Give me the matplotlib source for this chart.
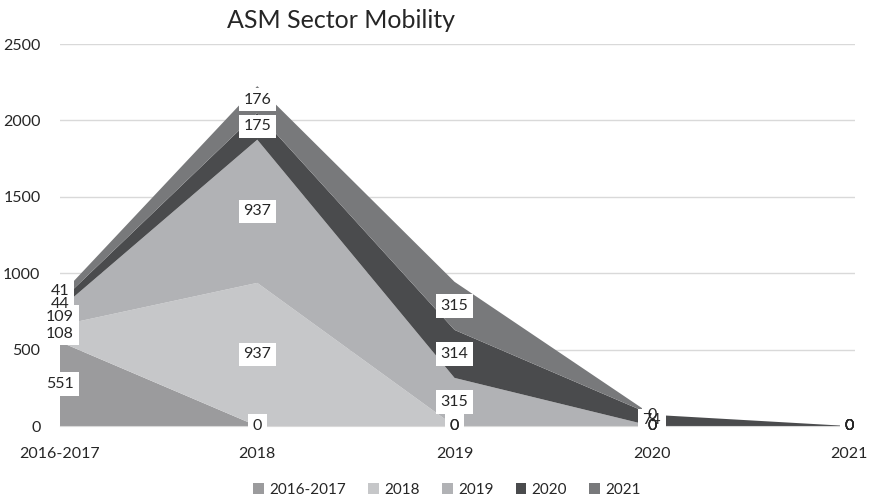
import matplotlib.pyplot as plt
import numpy as np

plt.rcParams['font.family'] = ['Lato', 'DejaVu Sans']

# categories on the x axis and one series per year of origin
categories = ['2016-2017', '2018', '2019', '2020', '2021']
series_names = ['2016-2017', '2018', '2019', '2020', '2021']
s_2016_2017 = [551, 0, 0, 0, 0]
s_2018 = [108, 937, 0, 0, 0]
s_2019 = [109, 937, 315, 0, 0]
s_2020 = [44, 175, 314, 74, 0]
s_2021 = [41, 176, 315, 0, 0]
yticks = [0, 500, 1000, 1500, 2000, 2500]

colors = ['#9b9b9d', '#c6c7c9', '#b1b2b5', '#4a4b4d', '#78797b']
txt = '#262626'

data = np.array([s_2016_2017, s_2018, s_2019, s_2020, s_2021])
x = np.arange(len(categories))

fig = plt.figure(figsize=(8.76, 5.03), dpi=100)
ax = fig.add_axes([0.0685, 0.153, 0.9075, 0.7594])

ax.stackplot(x, data, colors=colors, labels=series_names, zorder=2)
ax.set_xlim(0, 4.03)
ax.set_ylim(0, 2500)

# label positions: middle of each band, nonzero labels nudged apart a little
mids = np.cumsum(data, axis=0) - data / 2
min_gap = 13 / (ax.get_position().height * fig.get_figheight() * fig.dpi) * 2500
for i in range(len(categories)):
    last = None
    for k in range(len(data)):
        if data[k, i] == 0:
            continue
        if last is not None and mids[k, i] - last < min_gap:
            mids[k, i] = last + min_gap
        last = mids[k, i]

# white boxes first, then all texts on top
for k, vals in enumerate(data):
    for i, v in enumerate(vals):
        ax.text(x[i], mids[k, i], str(v), ha='center', va='center', fontsize=11.5,
                color='none', zorder=4,
                bbox=dict(facecolor='white', edgecolor='none', pad=3.5))
        ax.text(x[i], mids[k, i], str(v), ha='center', va='center', fontsize=11.5,
                color=txt, zorder=5)

ax.set_yticks(yticks)
ax.set_xticks(x)
ax.set_xticklabels(categories)
ax.tick_params(axis='both', length=0, labelsize=11.5, colors=txt)
ax.tick_params(axis='y', pad=14)
ax.tick_params(axis='x', pad=15)
ax.grid(axis='y', color='#d9d9d9', linewidth=1, zorder=0)
ax.set_axisbelow(True)
for side in ['top', 'right', 'left']:
    ax.spines[side].set_visible(False)
ax.spines['bottom'].set_color('#d9d9d9')

fig.text(341 / 876, 1 - 20 / 503, 'ASM Sector Mobility', ha='center', va='center',
         fontsize=18, color=txt)

handles, labels = ax.get_legend_handles_labels()
fig.legend(handles, labels, loc='center', bbox_to_anchor=(447 / 876, 1 - 490 / 503),
           ncol=5, frameon=False, fontsize=11, handlelength=0.7, handleheight=0.7,
           handletextpad=0.35, columnspacing=1.45, labelcolor=txt)

fig.savefig('out.png', dpi=100)
